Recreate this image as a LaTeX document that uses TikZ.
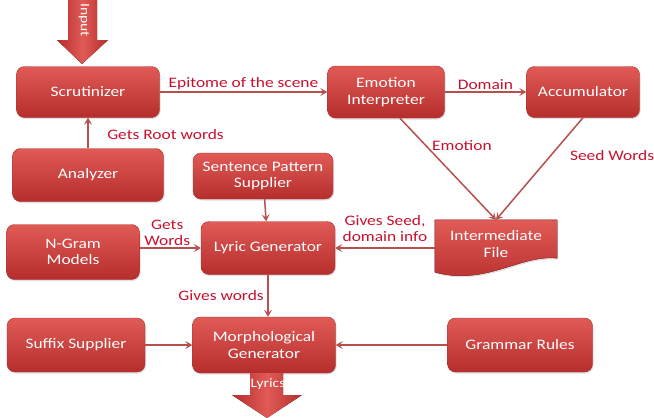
\documentclass[tikz,border=0pt]{standalone}
\usepackage{fontspec}
\setmainfont[FakeStretch=1.2]{Carlito}
\usetikzlibrary{arrows.meta,shadows}
\definecolor{boxtop}{HTML}{E05A56}
\definecolor{boxbot}{HTML}{B52E2C}
\definecolor{boxedge}{HTML}{A8302E}
\definecolor{linkcol}{HTML}{B5504E}
\definecolor{labcol}{HTML}{C8102E}
\tikzset{
  txt/.style={font=\fontsize{14.5}{16.5}\selectfont},
  blockbox/.style={rounded corners=8pt, top color=boxtop, bottom color=boxbot,
    draw=boxedge, line width=0.4pt, text=white, align=center, txt, inner sep=2pt,
    drop shadow={opacity=0.25, shadow xshift=1pt, shadow yshift=-1.5pt}},
  link/.style={draw=linkcol, line width=1.5pt,
    -{Stealth[length=7pt, width=8pt, inset=3pt]}},
  lab/.style={text=labcol, txt, align=center, inner sep=1.5pt},
  bigarrow/.style={left color=boxbot, right color=boxbot, middle color=boxtop, draw=none}
}
\begin{document}
\begin{tikzpicture}[x=1pt,y=-1pt]
\useasboundingbox (0,0) rectangle (654,418);

% input block arrow
\fill[bigarrow] (68,0) -- (97,0) -- (97,40) -- (108,40) -- (82,64) -- (57,40) -- (68,40) -- cycle;
\node[text=white, rotate=-90, font=\fontsize{13}{14}\selectfont] (inputlab) at (84,20) {Input};

% processing stages
\node[blockbox, minimum width=143pt, minimum height=51pt] (scrut) at (88,92) {Scrutinizer};
\node[blockbox, minimum width=117pt, minimum height=52pt] (emo) at (386,92) {Emotion\\Interpreter};
\node[blockbox, minimum width=113pt, minimum height=51pt] (acc) at (583,92) {Accumulator};
\node[blockbox, minimum width=151pt, minimum height=53pt] (anal) at (88,175) {Analyzer};
\node[blockbox, minimum width=140pt, minimum height=46pt] (sent) at (263,176) {Sentence Pattern\\Supplier};
\node[blockbox, minimum width=133pt, minimum height=55pt] (ngram) at (73,252) {N-Gram\\Models};
\node[blockbox, minimum width=134pt, minimum height=53pt] (lyric) at (268,248) {Lyric Generator};
\node[blockbox, minimum width=138pt, minimum height=54pt] (suffix) at (76,345) {Suffix Supplier};
\node[blockbox, minimum width=143pt, minimum height=56pt] (morph) at (264,345) {Morphological\\Generator};
\node[blockbox, minimum width=145pt, minimum height=54pt] (gram) at (520,345) {Grammar Rules};

% intermediate file: document shape with wavy lower edge
\node[minimum width=122pt, minimum height=52pt, inner sep=0pt] (ifile) at (496,246) {};
\fill[top color=boxtop, bottom color=boxbot, draw=boxedge, line width=0.4pt,
  drop shadow={opacity=0.25, shadow xshift=1pt, shadow yshift=-1.5pt}]
  (ifile.north west) -- (ifile.north east) -- ([yshift=14pt]ifile.south east)
  .. controls ([xshift=-37pt,yshift=18pt]ifile.south east) and ([xshift=-10pt,yshift=-14pt]ifile.south) ..
  (ifile.south west) -- cycle;
\node[text=white, align=center, txt] (ifiletext) at (496,244) {Intermediate\\File};

% output block arrow
\fill[bigarrow] (250,373) -- (283,373) -- (283,395) -- (302,395) -- (267,418) -- (232,395) -- (250,395) -- cycle;
\node[text=white, font=\fontsize{13}{14}\selectfont] (lyricslab) at (268,384) {Lyrics};

% connectors
\draw[link] (scrut) -- node[lab, above] {Epitome of the scene} (emo);
\draw[link] (emo) -- node[lab, above] {Domain} (acc);
\draw[link] (anal) -- node[lab, right, xshift=17pt, yshift=-2pt] {Gets Root words} (scrut);
\draw[link] ([xshift=14pt]emo.south) -- node[lab, pos=0.27, right, xshift=4pt] {Emotion} (ifile.north);
\draw[link] (acc.south) -- node[lab, pos=0.37, right, xshift=17pt] {Seed Words} (ifile.north);
\draw[link] (sent) -- (lyric);
\draw[link] (ngram.east |- lyric) -- node[lab, above, xshift=-3pt] {Gets\\Words} (lyric);
\draw[link] (ifile.west |- lyric) -- node[lab, above, yshift=4pt] {Gives Seed,\\domain info} (lyric);
\draw[link] (lyric) -- node[lab, left, xshift=-2pt] {Gives words} (lyric |- morph.north);
\draw[link] (suffix) -- (morph);
\draw[link] (gram) -- (morph);
\end{tikzpicture}
\end{document}
